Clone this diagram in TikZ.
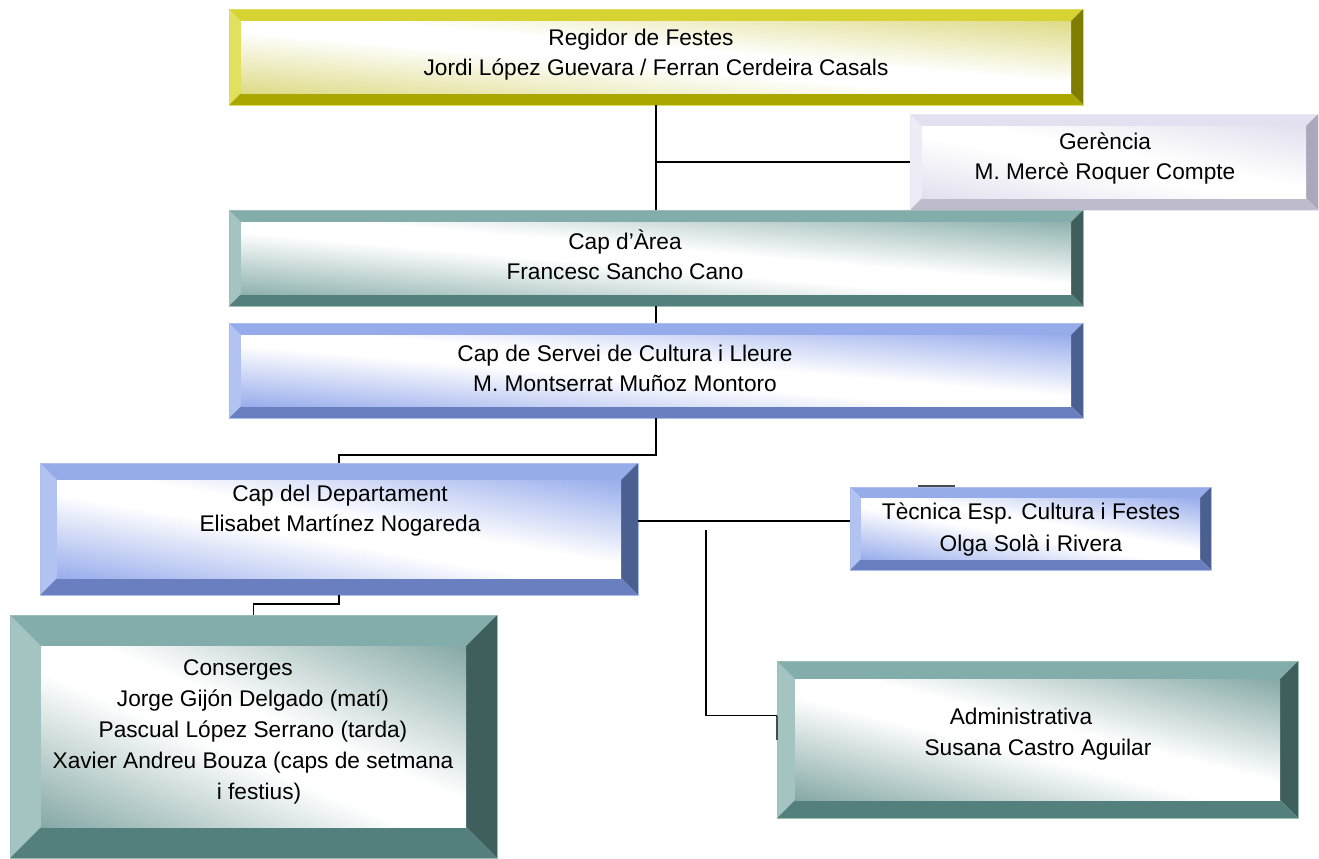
\documentclass[tikz,border=0pt]{standalone}
\usepackage{fontspec}
\setmainfont{Liberation Sans}
\usetikzlibrary{fit,calc}
% colour sets: T top, L left, B bottom, R right, C inner corner
\definecolor{yelT}{HTML}{D6D332}\definecolor{yelL}{HTML}{E2E05E}
\definecolor{yelB}{HTML}{AAA800}\definecolor{yelR}{HTML}{7F7D00}
\definecolor{yelC}{HTML}{DEDB88}
\definecolor{tealT}{HTML}{83ADAA}\definecolor{tealL}{HTML}{A4C4C2}
\definecolor{tealB}{HTML}{537F7C}\definecolor{tealR}{HTML}{3F5F5D}
\definecolor{tealC}{HTML}{8FB2AF}
\definecolor{tealD}{HTML}{86A9A6}
\definecolor{bluT}{HTML}{96ABEA}\definecolor{bluL}{HTML}{B3C3F1}
\definecolor{bluB}{HTML}{6A7FC0}\definecolor{bluR}{HTML}{4C5F91}
\definecolor{bluC}{HTML}{99ADEC}
\definecolor{lavT}{HTML}{E3E1EF}\definecolor{lavL}{HTML}{EDECF6}
\definecolor{lavB}{HTML}{BEBCCC}\definecolor{lavR}{HTML}{AAA8BB}
\definecolor{lavC}{HTML}{E2E0EE}
\definecolor{stub}{HTML}{4A4A4A}
\colorlet{shc}{white}
\pgfdeclareverticalshading[shc]{bevdiag}{100bp}{color(0bp)=(shc); color(14.6bp)=(shc); color(45bp)=(white); color(55bp)=(white); color(85.4bp)=(shc); color(100bp)=(shc)}
% #1 name, #2 x1, #3 y1, #4 x2, #5 y2, #6 bevel, #7 colour prefix, #8 inner corner colour
\newcommand\bevbox[8]{%
 \node[boxarea, fit={(#2,#3)(#4,#5)}] (#1) {};
 \fill[#7L] (#1.north west) -- ([shift={(#6,#6)}]#1.north west) -- ([shift={(#6,-#6)}]#1.south west) -- (#1.south west) -- cycle;
 \fill[#7T] (#1.north west) -- (#1.north east) -- ([shift={(-#6,#6)}]#1.north east) -- ([shift={(#6,#6)}]#1.north west) -- cycle;
 \fill[#7R] (#1.north east) -- (#1.south east) -- ([shift={(-#6,-#6)}]#1.south east) -- ([shift={(-#6,#6)}]#1.north east) -- cycle;
 \fill[#7B] (#1.south west) -- (#1.south east) -- ([shift={(-#6,-#6)}]#1.south east) -- ([shift={(#6,-#6)}]#1.south west) -- cycle;
 \colorlet{shc}{#8}%
 \pgfmathsetmacro\bvx{#2+#6}%
 \pgfmathsetmacro\bvy{#3+#6}%
 \pgfmathsetmacro\bvw{(#4-#2-2*#6)/100}%
 \pgfmathsetmacro\bvh{(#5-#3-2*#6)/100}%
 \begin{scope}[transform canvas={shift={(\bvx,\bvy)}, xscale=\bvw, yscale=\bvh}]
  \shade[shading=bevdiag, shading angle=-45] (0,0) rectangle (100,100);
 \end{scope}
 \draw[#7T!80!white, line width=0.5pt] (#1.north west) rectangle (#1.south east);
}
\tikzset{
 boxarea/.style={inner sep=0pt, outer sep=0pt},
 txt/.style={align=center, font=\fontsize{17}{22.5}\selectfont, inner sep=0pt},
 conn/.style={line width=1pt, black},
}
\begin{document}
\begin{tikzpicture}[x=0.75pt, y=-0.75pt]
\useasboundingbox (0,0) rectangle (1319,858);
\fill[white] (0,0) rectangle (1319,858);

% boxes
\bevbox{reg}{229}{9}{1083}{105}{12}{yel}{yelC}
\bevbox{ger}{910}{114}{1318}{210}{12}{lav}{lavC}
\bevbox{area}{229}{210}{1083}{306}{12}{teal}{tealC}
\bevbox{serv}{229}{323}{1083}{418}{12}{blu}{bluC}
\bevbox{dept}{40}{463}{638}{595}{17}{blu}{bluC}
\bevbox{tec}{850}{487}{1211}{570}{11}{blu}{bluC}
\bevbox{cons}{10}{615}{497}{858}{31}{teal}{tealD}
\bevbox{adm}{777}{661}{1298}{818}{18}{teal}{tealD}
\coordinate (vtop) at (706,530);
\coordinate (stubL) at (918,486);
\coordinate (stubR) at (955,486);

% connectors
\draw[conn] (reg.south) -- (area.north);
\draw[conn] (reg.south |- ger.west) -- (ger.west);
\draw[conn] (area.south) -- (serv.north);
\draw[conn] (serv.south) -- ++(0,37) -| (dept.north);
\draw[conn] ([yshift=6pt]dept.east) -- ([yshift=6pt]dept.east -| tec.west);
\draw[conn] (vtop) |- ([yshift=18pt]adm.west);
\draw[conn] (dept.south) -- ++(0,9) -| (cons.north);
\draw[stub, line width=1.2pt] ([yshift=18pt]adm.west) -- (adm.west);
\draw[stub, line width=1.5pt] (stubL) -- (stubR);

% texts
\node[txt] (regt) at (656,54.5) {Regidor de Festes\hspace*{22.5pt}\\Jordi López Guevara / Ferran Cerdeira Casals};
\node[txt] (gert) at (1105,158.5) {Gerència\\M. Mercè Roquer Compte};
\node[txt] (areat) at (625,255) {Cap d’Àrea\\Francesc Sancho Cano};
\node[txt] (servt) at (625,368) {Cap de Servei de Cultura i Lleure\\M. Montserrat Muñoz Montoro};
\node[txt] (deptt) at (340,511) {Cap del Departament\\Elisabet Martínez Nogareda};
\node[txt, font=\fontsize{17}{24}\selectfont] (tect) at (1031,529.5) {Tècnica Esp. Cultura i Festes\\Olga Solà i Rivera};
\node[txt, font=\fontsize{17}{23.25}\selectfont] (const) at (253,731.5) {Conserges\hspace*{22.5pt}\\Jorge Gijón Delgado (matí)\hspace*{15pt}\\Pascual López Serrano (tarda)\\Xavier Andreu Bouza (caps de setmana\\\hspace*{9pt}i festius)};
\node[txt, font=\fontsize{17}{23.25}\selectfont] (admt) at (1038,734) {Administrativa\hspace*{25.5pt}\\Susana Castro Aguilar};
\end{tikzpicture}
\end{document}
